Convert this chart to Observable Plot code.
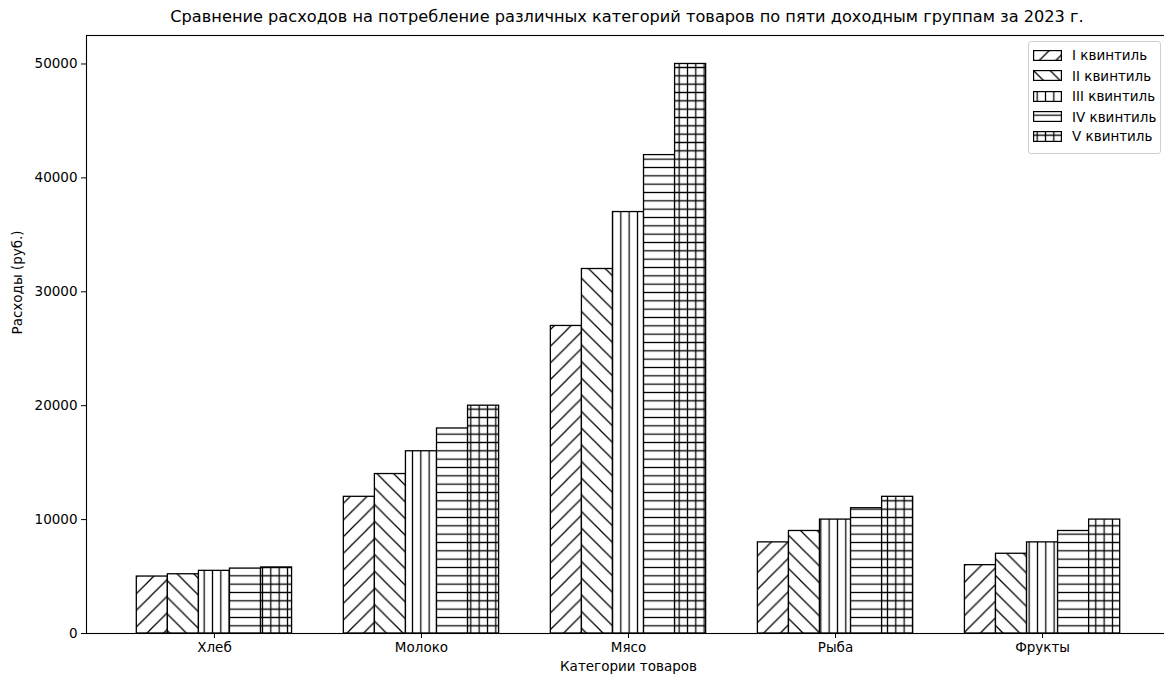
<!DOCTYPE html>
<html>
<head>
<meta charset="utf-8">
<script src="https://cdn.jsdelivr.net/npm/d3@7"></script>
<script src="https://cdn.jsdelivr.net/npm/@observablehq/plot@0.6"></script>
<style>
  html, body { margin: 0; padding: 0; background: #fff; }
  #wrap { position: relative; width: 1164px; height: 675px; overflow: hidden; font-family: "DejaVu Sans", sans-serif; color: #000; }
  #title { height: 30px; width: 1164px; position: relative; }
  #title span { position: absolute; left: 627px; top: 7px; transform: translateX(-50%); white-space: nowrap; font-size: 16.2px; }
  #chart { width: 1170px; height: 645px; }
  #chart svg { max-width: none !important; width: 1170px; height: 645px; display: block; }
  #legend { position: absolute; left: 1028px; top: 41px; width: 133px; height: 113px; border: 1px solid #cfcfcf; border-radius: 3px; background: rgba(255,255,255,0.85); box-sizing: border-box; }
  .row { position: absolute; left: 0; height: 20px; display: flex; align-items: center; font-size: 13.5px; white-space: nowrap; }
  .row svg { margin-left: 4px; margin-right: 10px; }
</style>
</head>
<body>
<svg width="0" height="0" style="position:absolute">
  <defs>
    <pattern id="h1" patternUnits="userSpaceOnUse" width="16.667" height="16.667">
      <rect width="16.667" height="16.667" fill="#fff"/>
      <path d="M0,16.667 L16.667,0 M-3,3 L3,-3 M13.667,19.667 L19.667,13.667" stroke="#000" stroke-width="1.25"/>
    </pattern>
    <pattern id="h2" patternUnits="userSpaceOnUse" width="16.667" height="16.667">
      <rect width="16.667" height="16.667" fill="#fff"/>
      <path d="M0,0 L16.667,16.667 M-3,13.667 L3,19.667 M13.667,-3 L19.667,3" stroke="#000" stroke-width="1.25"/>
    </pattern>
    <pattern id="h3" patternUnits="userSpaceOnUse" width="8.333" height="8.333">
      <rect width="8.333" height="8.333" fill="#fff"/>
      <path d="M4.17,0 V8.333" stroke="#000" stroke-width="1.25"/>
    </pattern>
    <pattern id="h4" patternUnits="userSpaceOnUse" width="8.333" height="8.333">
      <rect width="8.333" height="8.333" fill="#fff"/>
      <path d="M0,4.17 H8.333" stroke="#000" stroke-width="1.25"/>
    </pattern>
    <pattern id="h5" patternUnits="userSpaceOnUse" width="8.333" height="8.333">
      <rect width="8.333" height="8.333" fill="#fff"/>
      <path d="M4.17,0 V8.333 M0,4.17 H8.333" stroke="#000" stroke-width="1.25"/>
    </pattern>
  </defs>
</svg>
<div id="wrap">
  <div id="title"><span>Сравнение расходов на потребление различных категорий товаров по пяти доходным группам за 2023 г.</span></div>
  <div id="chart"></div>
  <div id="legend"></div>
</div>
<script>
// ---- data ----
const categories = ["Хлеб", "Молоко", "Мясо", "Рыба", "Фрукты"];
const seriesNames = ["I квинтиль", "II квинтиль", "III квинтиль", "IV квинтиль", "V квинтиль"];
const q1 = [5000, 12000, 27000, 8000, 6000];
const q2 = [5200, 14000, 32000, 9000, 7000];
const q3 = [5500, 16000, 37000, 10000, 8000];
const q4 = [5700, 18000, 42000, 11000, 9000];
const q5 = [5800, 20000, 50000, 12000, 10000];
const yTicks = [0, 10000, 20000, 30000, 40000, 50000];

const seriesValues = [q1, q2, q3, q4, q5];
const patterns = ["url(#h1)", "url(#h2)", "url(#h3)", "url(#h4)", "url(#h5)"];
const barW = 0.15;

const barMarks = seriesValues.map((vals, k) => {
  const off = (k - 2) * barW;
  const data = categories.map((c, i) => ({ i, v: vals[i] }));
  return Plot.rect(data, {
    x1: d => d.i + off - barW / 2,
    x2: d => d.i + off + barW / 2,
    y1: 0,
    y2: "v",
    fill: patterns[k],
    stroke: "#000",
    strokeWidth: 1.3
  });
});

const chart = Plot.plot({
  width: 1170,
  height: 645,
  marginLeft: 86,
  marginRight: 0,
  marginTop: 5,
  marginBottom: 42,
  style: { fontFamily: "DejaVu Sans, sans-serif", fontSize: "13.5px", color: "#000", background: "#fff", maxWidth: "none" },
  x: { domain: [-0.618, 4.618] },
  y: { domain: [0, 52500] },
  marks: [
    ...barMarks,
    Plot.frame({ stroke: "#000", strokeWidth: 1.1 }),
    Plot.axisX({ ticks: [0, 1, 2, 3, 4], tickFormat: i => categories[i], tickSize: 5, tickPadding: 4, label: null, fontSize: 13.5 }),
    Plot.axisY({ ticks: yTicks, tickFormat: d => String(d), tickSize: 5, tickPadding: 4, label: null, fontSize: 13.5 }),
    Plot.text(["Категории товаров"], { frameAnchor: "bottom", dy: 37, text: d => d, fontSize: 13.5 }),
    Plot.text(["Расходы (руб.)"], { frameAnchor: "left", dx: -69, rotate: -90, text: d => d, fontSize: 13.5 })
  ]
});
chart.style.maxWidth = "none";
document.getElementById("chart").appendChild(chart);

// ---- legend ----
const legend = document.getElementById("legend");
const rowCenters = [13, 33.5, 54, 74.5, 94];
seriesNames.forEach((name, k) => {
  const row = document.createElement("div");
  row.className = "row";
  row.style.top = (rowCenters[k] - 10) + "px";
  row.innerHTML = `<svg width="29" height="11"><rect x="0.6" y="0.6" width="27.8" height="9.8" fill="${patterns[k]}" stroke="#000" stroke-width="1.2"/></svg><span>${name}</span>`;
  legend.appendChild(row);
});
</script>
</body>
</html>
